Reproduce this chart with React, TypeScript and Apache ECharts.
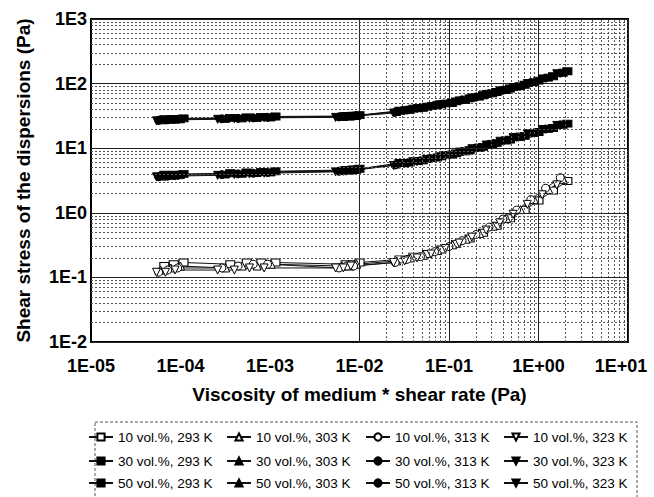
import React, { useEffect, useRef } from "react";
import * as echarts from "echarts";

const FONT = "'Liberation Sans', Arial, Helvetica, sans-serif";

const TEMPS = ["293 K", "303 K", "313 K", "323 K"];
const CONCS = ["10 vol.%", "30 vol.%", "50 vol.%"];

// viscosity of medium * shear rate (Pa), per temperature
const X_293 = [6.6e-5, 8.4e-5, 1.08e-4, 3.6e-4, 5.5e-4, 8e-4, 1.15e-3, 7e-3, 8.5e-3, 1.0e-2, 0.028, 0.04, 0.057, 0.082, 0.12, 0.17, 0.24, 0.34, 0.48, 0.7, 1.0, 1.45, 2.1];
const X_303 = [6e-5, 7.8e-5, 1e-4, 3.2e-4, 4.9e-4, 7.2e-4, 1.03e-3, 6.4e-3, 7.8e-3, 9.3e-3, 0.026, 0.037, 0.052, 0.075, 0.11, 0.155, 0.22, 0.31, 0.44, 0.63, 0.9, 1.3, 1.9];
const X_313 = [5.7e-5, 7.2e-5, 9.3e-5, 2.9e-4, 4.4e-4, 6.5e-4, 9.4e-4, 5.9e-3, 7.2e-3, 8.6e-3, 0.025, 0.034, 0.048, 0.069, 0.1, 0.14, 0.2, 0.28, 0.4, 0.57, 0.82, 1.2, 1.75];
const X_323 = [5.4e-5, 6.8e-5, 8.7e-5, 2.6e-4, 4e-4, 5.9e-4, 8.6e-4, 5.4e-3, 6.6e-3, 8e-3, 0.024, 0.032, 0.044, 0.063, 0.091, 0.13, 0.18, 0.26, 0.37, 0.52, 0.75, 1.1, 1.6];

// shear stress (Pa)
const Y10_293 = [0.15, 0.16, 0.17, 0.16, 0.17, 0.17, 0.17, 0.16, 0.16, 0.17, 0.19, 0.21, 0.23, 0.27, 0.33, 0.4, 0.49, 0.63, 0.82, 1.1, 1.55, 2.2, 3.1];
const Y10_303 = [0.13, 0.14, 0.15, 0.14, 0.15, 0.15, 0.16, 0.15, 0.15, 0.16, 0.18, 0.2, 0.22, 0.26, 0.32, 0.39, 0.48, 0.62, 0.82, 1.12, 1.6, 2.3, 3.3];
const Y10_313 = [0.12, 0.13, 0.14, 0.14, 0.15, 0.16, 0.16, 0.14, 0.15, 0.15, 0.17, 0.19, 0.21, 0.25, 0.3, 0.37, 0.46, 0.6, 0.8, 1.1, 1.6, 2.4, 3.5];
const Y10_323 = [0.12, 0.12, 0.13, 0.13, 0.13, 0.14, 0.14, 0.14, 0.14, 0.15, 0.17, 0.18, 0.2, 0.23, 0.28, 0.34, 0.42, 0.54, 0.7, 0.95, 1.35, 1.9, 2.7];

const Y30_293 = [3.9, 3.9, 4.0, 4.1, 4.2, 4.3, 4.4, 4.6, 4.7, 4.8, 5.9, 6.3, 6.8, 7.5, 8.3, 9.3, 10.5, 12, 13.6, 15.5, 17.8, 20.5, 24];
const Y30_303 = [3.7, 3.8, 3.9, 4.0, 4.1, 4.2, 4.3, 4.5, 4.6, 4.7, 5.7, 6.1, 6.6, 7.3, 8.1, 9.1, 10.3, 11.8, 13.4, 15.2, 17.5, 20.3, 23.5];
const Y30_313 = [3.6, 3.7, 3.8, 3.9, 4.0, 4.1, 4.2, 4.4, 4.5, 4.6, 5.5, 5.9, 6.4, 7.1, 7.9, 8.9, 10.1, 11.5, 13.1, 14.9, 17.1, 19.8, 23];
const Y30_323 = [3.6, 3.6, 3.7, 3.8, 3.9, 4.0, 4.1, 4.3, 4.4, 4.5, 5.4, 5.8, 6.2, 6.9, 7.7, 8.7, 9.8, 11.2, 12.8, 14.6, 16.8, 19.4, 22.5];

const Y50_293 = [28, 28.5, 29, 29.5, 30, 30.5, 31, 31.5, 32, 32.5, 38, 41, 44, 48, 53, 59, 66, 74, 84, 96, 111, 130, 155];
const Y50_303 = [27.5, 28, 28.5, 29, 29.5, 30, 30.5, 31, 31.5, 32, 37, 40, 43, 47, 51, 57, 64, 72, 81, 93, 107, 126, 150];
const Y50_313 = [27, 27.5, 28, 28.5, 29, 29.5, 30, 30.5, 31, 31.5, 36, 39, 42, 46, 50, 56, 62, 70, 79, 90, 104, 122, 146];
const Y50_323 = [26.5, 27, 27.5, 28, 28.5, 29, 29.5, 30, 30.5, 31, 35, 38, 41, 44, 48, 54, 60, 68, 77, 87, 100, 118, 142];

const XS = [X_293, X_303, X_313, X_323];
const YS = [
  [Y10_293, Y10_303, Y10_313, Y10_323],
  [Y30_293, Y30_303, Y30_313, Y30_323],
  [Y50_293, Y50_303, Y50_313, Y50_323],
];

const SYMBOLS = ["rect", "triangle", "circle", "triangle"];
const ROTATE = [0, 0, 0, 180];

const X_MIN_EXP = -5, X_MAX_EXP = 1;
const Y_MIN_EXP = -2, Y_MAX_EXP = 3;

function gridLines(axis: "xAxis" | "yAxis", minExp: number, maxExp: number) {
  const out: any[] = [];
  for (let e = minExp; e <= maxExp; e++) {
    const base = Math.pow(10, e);
    out.push({ [axis]: base, lineStyle: { type: "solid", color: "#222", width: 1 } });
    if (e < maxExp) {
      for (let k = 2; k <= 9; k++) {
        out.push({ [axis]: k * base, lineStyle: { type: [2, 2], color: "#555", width: 1 } });
      }
    }
  }
  return out;
}

export default function App() {
  const ref = useRef<HTMLDivElement>(null);
  useEffect(() => {
    if (!ref.current) return;
    const chart = echarts.init(ref.current, undefined, { renderer: "svg" });

    const series: any[] = [
      {
        type: "line",
        data: [],
        z: 1,
        silent: true,
        markLine: {
          silent: true,
          symbol: ["none", "none"],
          label: { show: false },
          animation: false,
          data: [...gridLines("xAxis", X_MIN_EXP, X_MAX_EXP), ...gridLines("yAxis", Y_MIN_EXP, Y_MAX_EXP)],
        },
      },
    ];
    const legends: any[] = [];
    const colLeft = [88, 226, 365, 503];
    const rowTop = [430, 454, 476];

    CONCS.forEach((conc, ci) => {
      TEMPS.forEach((temp, ti) => {
        const name = `${conc}, ${temp}`;
        const open = ci === 0;
        const xs = XS[ti];
        const ys = YS[ci][ti];
        series.push({
          type: "line",
          name,
          data: xs.map((x, i) => [x, ys[i]]),
          symbol: SYMBOLS[ti],
          symbolSize: ti === 0 ? [9, 7] : 8,
          symbolRotate: ROTATE[ti],
          showSymbol: true,
          showAllSymbol: true,
          lineStyle: { color: "#111", width: 1 },
          itemStyle: open
            ? { color: "#fff", borderColor: "#000", borderWidth: 1 }
            : { color: "#000", borderColor: "#000", borderWidth: 1 },
          z: 3 + ci,
        });
        legends.push({
          data: [name],
          left: colLeft[ti],
          top: rowTop[ci],
          padding: 0,
          itemWidth: 24,
          itemHeight: 9,
          selectedMode: false,
          textStyle: { fontFamily: FONT, fontSize: 13.5, color: "#000" },
        });
      });
    });

    const xFmt = (v: number) => {
      const e = Math.round(Math.log10(v));
      const s = `1E${e < 0 ? "-" : "+"}${String(Math.abs(e)).padStart(2, "0")}`;
      return e === X_MAX_EXP ? `{last|${s}}` : s;
    };
    const yFmt = (v: number) => `1E${Math.round(Math.log10(v))}`;

    chart.setOption({
      animation: false,
      backgroundColor: "#fff",
      grid: {
        left: 91,
        right: 26,
        top: 19,
        bottom: 155,
        show: true,
        backgroundColor: "#fff",
        borderColor: "#000",
        borderWidth: 2,
        z: 0,
      },
      legend: legends,
      graphic: [
        {
          type: "rect",
          shape: { x: 95, y: 422, width: 542, height: 90 },
          style: { fill: "none", stroke: "#555", lineWidth: 1, lineDash: [3, 2] },
          z: -1,
        },
      ],
      xAxis: {
        type: "log",
        logBase: 10,
        min: Math.pow(10, X_MIN_EXP),
        max: Math.pow(10, X_MAX_EXP),
        splitNumber: 6,
        name: "Viscosity of medium * shear rate (Pa)",
        nameLocation: "middle",
        nameGap: 43,
        nameTextStyle: { fontFamily: FONT, fontSize: 19, fontWeight: "bold", color: "#000" },
        axisLine: { show: false },
        axisTick: { show: false },
        splitLine: { show: false },
        axisLabel: {
          formatter: xFmt,
          fontFamily: FONT,
          fontSize: 18,
          fontWeight: "bold",
          color: "#000",
          margin: 15,
          showMinLabel: true,
          showMaxLabel: true,
          rich: {
            last: { fontFamily: FONT, fontSize: 18, fontWeight: "bold", color: "#000", padding: [0, 14, 0, 0] },
          },
        },
      },
      yAxis: {
        type: "log",
        logBase: 10,
        min: Math.pow(10, Y_MIN_EXP),
        max: Math.pow(10, Y_MAX_EXP),
        splitNumber: 5,
        name: "Shear stress of the dispersions (Pa)",
        nameLocation: "middle",
        nameGap: 58,
        nameTextStyle: { fontFamily: FONT, fontSize: 19, fontWeight: "bold", color: "#000" },
        axisLine: { show: false },
        axisTick: { show: false },
        splitLine: { show: false },
        axisLabel: {
          formatter: yFmt,
          fontFamily: FONT,
          fontSize: 18,
          fontWeight: "bold",
          color: "#000",
          margin: 4,
          showMinLabel: true,
          showMaxLabel: true,
        },
      },
      series,
    });
    return () => chart.dispose();
  }, []);
  return (
    <div
      ref={ref}
      style={{ position: "fixed", left: 0, top: 0, width: 654, height: 497, background: "#fff" }}
    />
  );
}
